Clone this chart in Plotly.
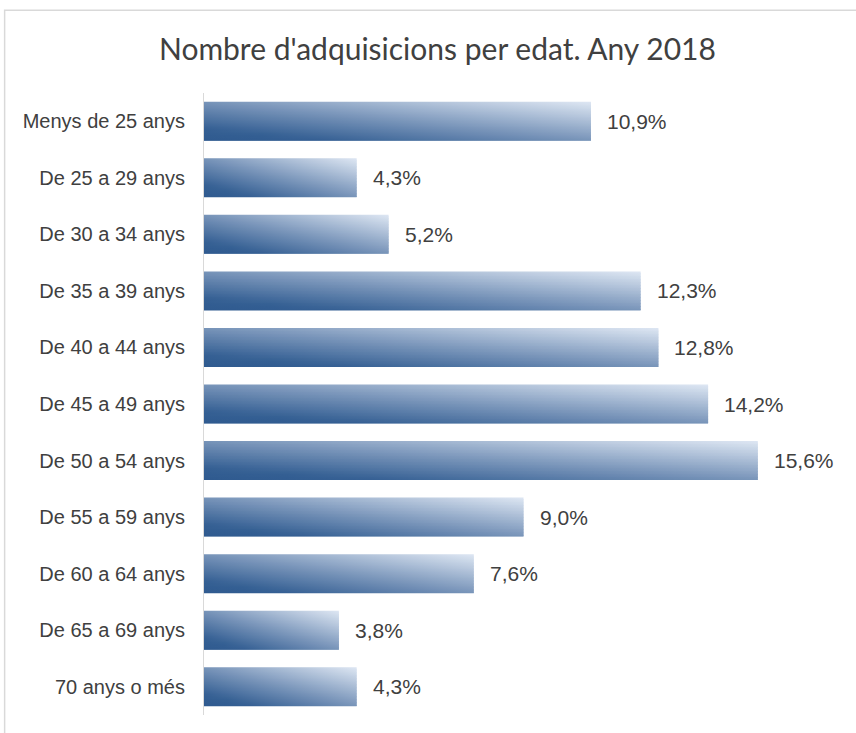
import plotly.graph_objects as go

categories = ["Menys de 25 anys", "De 25 a 29 anys", "De 30 a 34 anys", "De 35 a 39 anys",
              "De 40 a 44 anys", "De 45 a 49 anys", "De 50 a 54 anys", "De 55 a 59 anys",
              "De 60 a 64 anys", "De 65 a 69 anys", "70 anys o més"]
values = [10.9, 4.3, 5.2, 12.3, 12.8, 14.2, 15.6, 9.0, 7.6, 3.8, 4.3]
title_text = "Nombre d'adquisicions per edat. Any 2018"

HALF = 0.345
TEXT = "#404040"

# diagonal gradient stops (s: 0 = bottom-left dark, 1 = top-right light)
GRAD = [(0.0, (47, 90, 143)), (0.15, (52, 95, 147)), (0.5, (120, 148, 185)), (1.0, (222, 231, 243))]


def grad_color(s):
    s = min(max(s, 0.0), 1.0)
    for (s0, c0), (s1, c1) in zip(GRAD[:-1], GRAD[1:]):
        if s <= s1:
            f = (s - s0) / (s1 - s0) if s1 > s0 else 0
            return "rgb(%d,%d,%d)" % tuple(round(a + (b - a) * f) for a, b in zip(c0, c1))
    return "rgb(%d,%d,%d)" % GRAD[-1][1]


NSTRIP = 26
fig = go.Figure()
for i, v in enumerate(values):
    top = i - HALF
    h = 2 * HALF / NSTRIP
    for k in range(NSTRIP):
        y0 = top + k * h
        y1 = min(top + (k + 1) * h + 0.8 * h, i + HALF)
        w = (k + 0.5) / NSTRIP  # 0 top, 1 bottom
        stops = [[u, grad_color(0.5 * u + 0.5 * (1 - w))] for u in (0, 0.15, 0.3, 0.5, 0.75, 1)]
        fig.add_trace(go.Scatter(
            x=[0, v, v, 0, 0], y=[y0, y0, y1, y1, y0],
            mode="lines", line=dict(width=0), fill="toself",
            fillgradient=dict(type="horizontal", colorscale=stops),
            hoverinfo="skip", showlegend=False))

for i, v in enumerate(values):
    fig.add_annotation(x=v, y=i, text=f"{v:.1f}".replace(".", ",") + "%",
                       xanchor="left", yanchor="middle", xshift=14, showarrow=False,
                       font=dict(family="Liberation Sans, Arial", size=21, color=TEXT))

fig.update_layout(
    width=856, height=733,
    margin=dict(l=204, r=13, t=93, b=18),
    paper_bgcolor="white", plot_bgcolor="white",
    title=dict(text=title_text, x=0.511, xanchor="center", y=0.933, yanchor="middle",
               font=dict(family="Lato", size=30, color=TEXT)),
    xaxis=dict(range=[0, 18], showgrid=False, zeroline=False, showticklabels=False,
               showline=False, fixedrange=True),
    yaxis=dict(range=[10.5, -0.5], tickmode="array", tickvals=list(range(len(categories))),
               ticktext=categories, showgrid=False, zeroline=False, showline=True,
               linecolor="#d9d9d9", linewidth=1, ticks="", ticklabelstandoff=14,
               tickfont=dict(family="Liberation Sans, Arial", size=20, color=TEXT)),
    shapes=[dict(type="rect", xref="paper", yref="paper", x0=-0.312, x1=1.1, y0=-0.1, y1=1.133,
                 line=dict(color="#d9d9d9", width=1.5), fillcolor="rgba(0,0,0,0)", layer="below")],
)

fig.write_html("out.html", config={"displayModeBar": False},
               post_script="document.body.style.margin='0';document.body.style.overflow='hidden';")
